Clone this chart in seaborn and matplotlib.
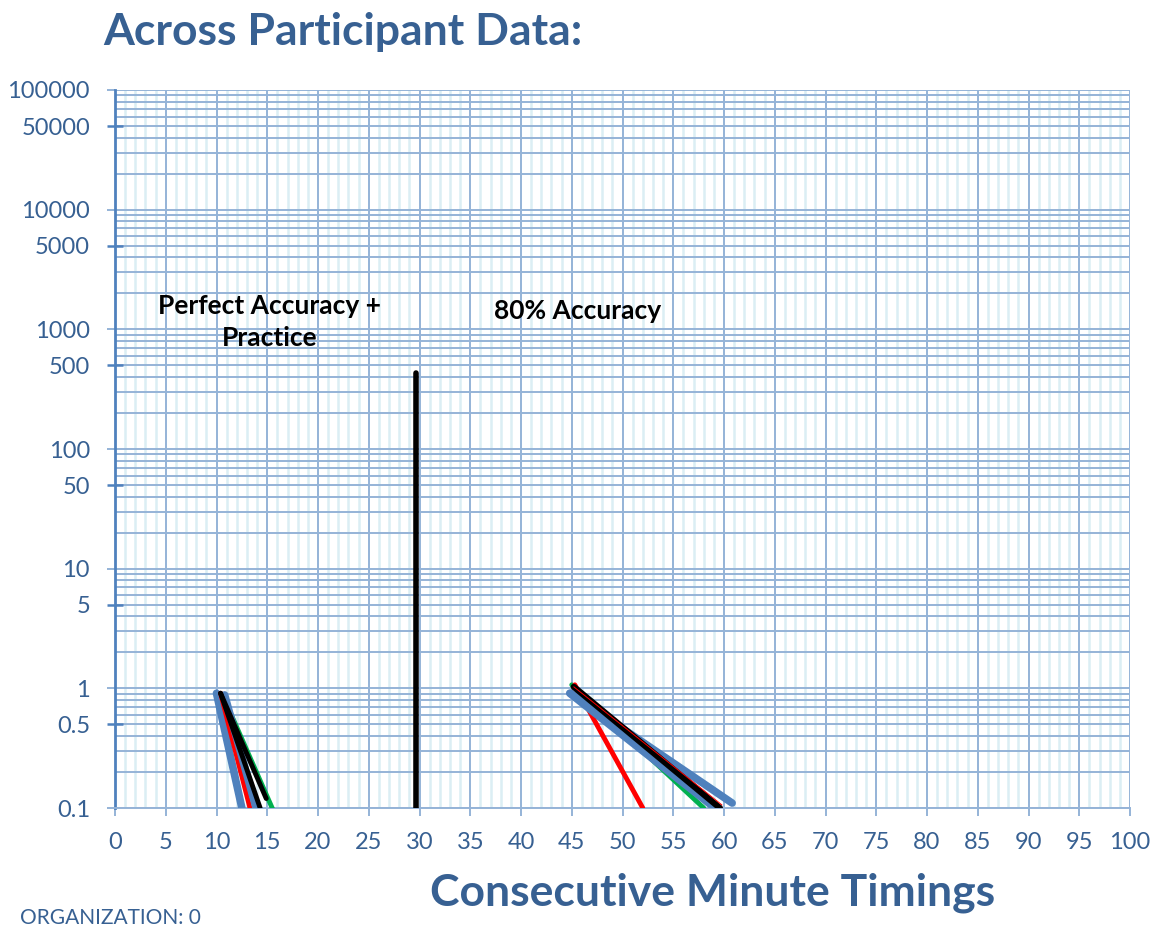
import matplotlib
matplotlib.use("Agg")
import matplotlib.pyplot as plt
import matplotlib.ticker as mticker
import numpy as np
import pandas as pd
import seaborn as sns

# ---------------- data ----------------
# left group: "Perfect Accuracy + Practice"
blue1_x = [10.0, 12.5];  blue1_y = [0.91, 0.10]
blue2_x = [10.8, 13.9];  blue2_y = [0.88, 0.10]
red1_x = [10.4, 13.3];   red1_y = [0.91, 0.10]
black1_x = [10.4, 14.9]; black1_y = [0.91, 0.12]
black2_x = [10.4, 14.3]; black2_y = [0.91, 0.10]
green1_x = [10.6, 15.6]; green1_y = [0.88, 0.095]
# phase change line
phase_x = [29.7, 29.7];  phase_y = [0.10, 430]
# right group: "80% Accuracy"
green2_x = [45.0, 58.0]; green2_y = [1.07, 0.10]
red2_x = [45.3, 52.0];   red2_y = [1.07, 0.10]
red3_x = [45.2, 59.8];   red3_y = [1.03, 0.106]
black3_x = [45.2, 59.6]; black3_y = [1.03, 0.10]
blue3_x = [44.8, 59.1];  blue3_y = [0.91, 0.10]
blue4_x = [44.9, 60.8];  blue4_y = [0.91, 0.11]

x_ticks = list(range(0, 101, 5))
y_labels = [0.1, 0.5, 1, 5, 10, 50, 100, 500, 1000, 5000, 10000, 50000, 100000]

title_text = "Across Participant Data:"
xlabel_text = "Consecutive Minute Timings"
note_left = "Perfect Accuracy +\nPractice"
note_right = "80% Accuracy"
footer_text = "ORGANIZATION: 0"

# ---------------- style ----------------
sns.set_style("white")
plt.rcParams["font.family"] = ["Lato", "DejaVu Sans"]

TXT = "#376092"
GRID = "#95B3D7"
GRID_MINOR = "#DBEEF4"
C_BLUE = "#4F81BD"
C_RED = "#FF0000"
C_GREEN = "#00B050"
C_BLACK = "#000000"

fig = plt.figure(figsize=(11.55, 9.3), dpi=100)
ax = fig.add_axes([115 / 1155, 1 - 808 / 930, 1015 / 1155, 718 / 930])
ax.set_yscale("log")

segments = [
    ("blue1", blue1_x, blue1_y, C_BLUE, 5.5),
    ("red1", red1_x, red1_y, C_RED, 3.5),
    ("green1", green1_x, green1_y, C_GREEN, 3.5),
    ("blue2", blue2_x, blue2_y, C_BLUE, 5.5),
    ("black1", black1_x, black1_y, C_BLACK, 3.5),
    ("black2", black2_x, black2_y, C_BLACK, 3.5),
    ("phase", phase_x, phase_y, C_BLACK, 4.0),
    ("green2", green2_x, green2_y, C_GREEN, 3.5),
    ("red2", red2_x, red2_y, C_RED, 3.5),
    ("blue3", blue3_x, blue3_y, C_BLUE, 5.5),
    ("blue4", blue4_x, blue4_y, C_BLUE, 5.5),
    ("black3", black3_x, black3_y, C_BLACK, 4.5),
    ("red3", red3_x, red3_y, C_RED, 0.7),
]

frames = []
for name, xs, ys, col, lw in segments:
    frames.append(pd.DataFrame({"seg": name, "x": xs, "y": ys}))
df = pd.concat(frames, ignore_index=True)

for name, xs, ys, col, lw in segments:
    sub = df[df["seg"] == name]
    sns.lineplot(data=sub, x="x", y="y", ax=ax, color=col, linewidth=lw,
                 sort=False, estimator=None, legend=False, zorder=3)

ax.set_xlim(0, 100)
ax.set_ylim(0.1, 100000)

# x axis
ax.xaxis.set_major_locator(mticker.FixedLocator(x_ticks))
ax.xaxis.set_minor_locator(mticker.MultipleLocator(1))
ax.set_xticklabels([str(v) for v in x_ticks])
ax.grid(True, which="major", axis="x", color=GRID, linewidth=1.4, zorder=1)
ax.grid(True, which="minor", axis="x", color=GRID_MINOR, linewidth=1.8, zorder=0)
ax.tick_params(axis="x", which="major", direction="out", length=6, width=1.4,
               color=GRID, labelcolor=TXT, labelsize=17, pad=11, bottom=True)
ax.tick_params(axis="x", which="minor", length=0)

# y axis
decades = [v for v in y_labels if np.isclose(np.log10(v), round(np.log10(v)))]
ax.yaxis.set_major_locator(mticker.FixedLocator(decades))
ax.yaxis.set_minor_locator(mticker.LogLocator(base=10, subs=np.arange(2, 10), numticks=100))


def fmt(v):
    return ("%g" % v)


ax.yaxis.set_major_formatter(mticker.FuncFormatter(lambda v, p: fmt(v)))


def minor_fmt(v, p):
    for lab in y_labels:
        if np.isclose(v, lab):
            return fmt(v)
    return ""


ax.yaxis.set_minor_formatter(mticker.FuncFormatter(minor_fmt))
ax.grid(True, which="both", axis="y", color=GRID, linewidth=1.4, zorder=1)
ax.tick_params(axis="y", which="major", direction="out", length=6, width=1.4,
               color=GRID, labelcolor=TXT, labelsize=17, pad=12, left=True)
ax.tick_params(axis="y", which="minor", direction="inout", length=12, width=1.8,
               color=C_BLUE, labelcolor=TXT, labelsize=17, pad=12, left=True)

for s in ["top", "right"]:
    ax.spines[s].set_visible(False)
ax.spines["left"].set_color(C_BLUE)
ax.spines["left"].set_linewidth(2.0)
ax.spines["bottom"].set_color(GRID)
ax.spines["bottom"].set_linewidth(1.4)
ax.set_xlabel("")
ax.set_ylabel("")
ax.set_axisbelow(True)

# texts
fig.text(103 / 1155, 1 - 45 / 930, title_text, color=TXT, fontsize=32,
         fontweight="bold", ha="left", va="baseline")
fig.text(430 / 1155, 1 - 905 / 930, xlabel_text, color=TXT, fontsize=32,
         fontweight="bold", ha="left", va="baseline")
fig.text(270 / 1155, 1 - 322 / 930, note_left, color="black", fontsize=19,
         fontweight="bold", ha="center", va="center", linespacing=1.35)
fig.text(578 / 1155, 1 - 311 / 930, note_right, color="black", fontsize=19,
         fontweight="bold", ha="center", va="center")
fig.text(20 / 1155, 1 - 928 / 930, footer_text, color=TXT, fontsize=15,
         ha="left", va="bottom")

fig.canvas.draw()
for t in ax.yaxis.get_minor_ticks():
    loc = t.get_loc()
    keep = any(np.isclose(loc, lab) for lab in y_labels)
    t.tick1line.set_visible(keep)

fig.savefig("out.png", dpi=100)
